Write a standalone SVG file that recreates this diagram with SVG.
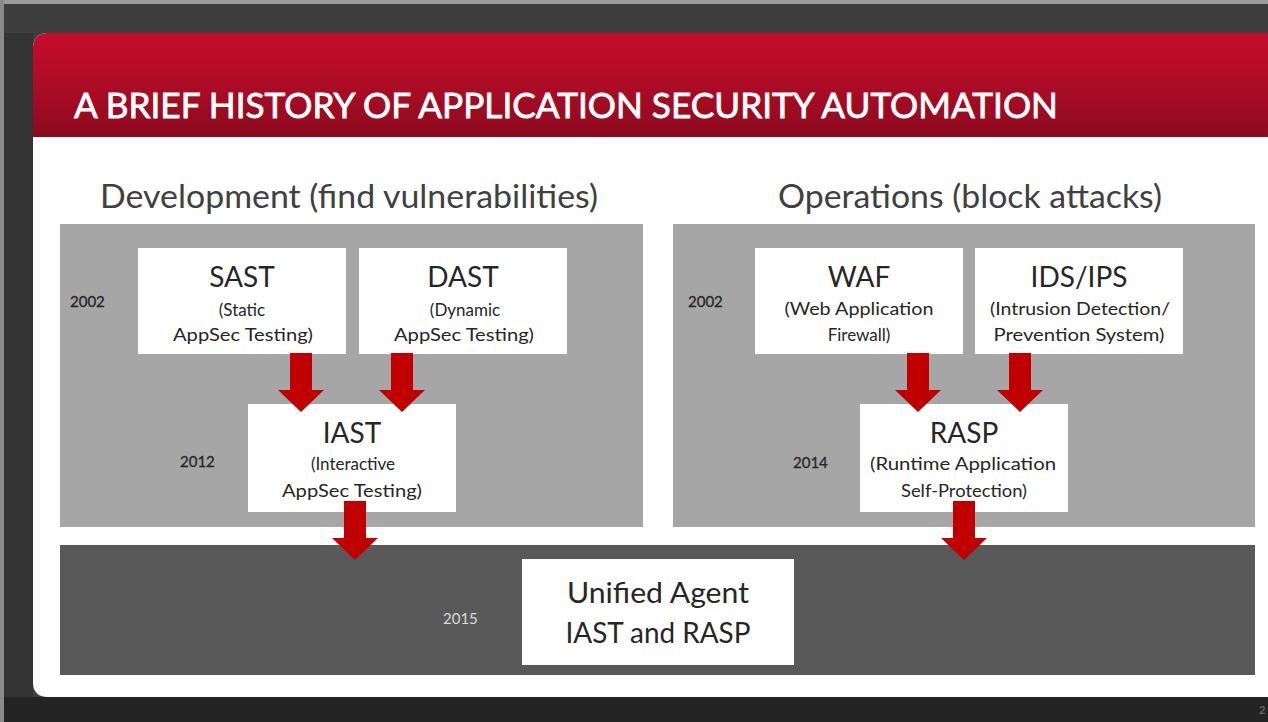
<svg xmlns="http://www.w3.org/2000/svg" xmlns:xlink="http://www.w3.org/1999/xlink" width="1268" height="722" viewBox="0 0 1268 722">
<defs>
<linearGradient id="hdr" x1="0" y1="0" x2="0" y2="1">
<stop offset="0" stop-color="#c40d2b"/>
<stop offset="0.45" stop-color="#b00c26"/>
<stop offset="1" stop-color="#8c0a1e"/>
</linearGradient>
<path id="arrow" d="M-11,0 H11 V37 H23 L0,59 L-23,37 H-11 Z"/>
<style>
text{font-family:Lato,"Open Sans","Liberation Sans",sans-serif}
.box{fill:#ffffff}
.big{font-size:28px;fill:#262626;text-anchor:middle}
.sub{font-size:17px;fill:#262626;text-anchor:middle}
.yr{font-size:15px;fill:#262626;stroke:#262626;stroke-width:0.3}
.head{font-size:32px;fill:#404040}
.arr{fill:#c00000}
</style>
</defs>
<rect x="0" y="0" width="1268" height="722" fill="#3e3e3e"/>
<rect x="0" y="33" width="33" height="664" fill="#333333"/>
<rect x="0" y="697" width="1268" height="25" fill="#242424"/>
<rect x="0" y="0" width="1268" height="4" fill="#9a9a9a"/>
<rect x="0" y="0" width="4" height="722" fill="#8a8a8a"/>
<text x="1259" y="714" font-size="11" fill="#666" font-family="Liberation Sans,sans-serif" font-weight="bold">2</text>
<path d="M48,33 H1268 V697 H48 Q33,697 33,682 V48 Q33,33 48,33 Z" fill="#ffffff"/>
<path d="M48,33 H1268 V137 H33 V48 Q33,33 48,33 Z" fill="url(#hdr)"/>
<text x="74" y="118" font-size="35" fill="#ffffff" stroke="#ffffff" stroke-width="0.8" textLength="984" lengthAdjust="spacingAndGlyphs">A BRIEF HISTORY OF APPLICATION SECURITY AUTOMATION</text>

<text class="head" x="100" y="208" textLength="498" lengthAdjust="spacingAndGlyphs">Development (find vulnerabilities)</text>
<text class="head" x="778" y="208" textLength="384" lengthAdjust="spacingAndGlyphs">Operations (block attacks)</text>

<g id="panels">
<rect x="60" y="224" width="583" height="303" fill="#a6a6a6"/>
<rect x="673" y="224" width="582" height="303" fill="#a6a6a6"/>
<rect x="60" y="545" width="1195" height="130" fill="#595959"/>
</g>

<g id="years">
<text class="yr" x="70" y="307">2002</text>
<text class="yr" x="180" y="467">2012</text>
<text class="yr" x="688" y="307">2002</text>
<text class="yr" x="793" y="468">2014</text>
<text class="yr" x="443" y="624" style="fill:#d9d9d9;stroke:none">2015</text>
</g>

<g id="sast">
<rect class="box" x="138" y="248" width="208" height="106"/>
<text class="big" x="242" y="287">SAST</text>
<text class="sub" x="242" y="316">(Static</text>
<text class="sub" x="243" y="341" textLength="140" lengthAdjust="spacingAndGlyphs">AppSec Testing)</text>
</g>
<g id="dast">
<rect class="box" x="359" y="248" width="208" height="106"/>
<text class="big" x="463" y="287">DAST</text>
<text class="sub" x="465" y="316">(Dynamic</text>
<text class="sub" x="464" y="341" textLength="140" lengthAdjust="spacingAndGlyphs">AppSec Testing)</text>
</g>
<g id="iast">
<rect class="box" x="248" y="404" width="208" height="108"/>
<text class="big" x="352" y="443">IAST</text>
<text class="sub" x="353" y="470">(Interactive</text>
<text class="sub" x="352" y="497" textLength="140" lengthAdjust="spacingAndGlyphs">AppSec Testing)</text>
</g>
<g id="waf">
<rect class="box" x="755" y="248" width="208" height="106"/>
<text class="big" x="859" y="287">WAF</text>
<text class="sub" x="859" y="315" textLength="149" lengthAdjust="spacingAndGlyphs">(Web Application</text>
<text class="sub" x="859" y="341">Firewall)</text>
</g>
<g id="idsips">
<rect class="box" x="975" y="248" width="208" height="106"/>
<text class="big" x="1079" y="287">IDS/IPS</text>
<text class="sub" x="1080" y="315" textLength="180" lengthAdjust="spacingAndGlyphs">(Intrusion Detection/</text>
<text class="sub" x="1079" y="341" textLength="171" lengthAdjust="spacingAndGlyphs">Prevention System)</text>
</g>
<g id="rasp">
<rect class="box" x="860" y="404" width="208" height="108"/>
<text class="big" x="964" y="443">RASP</text>
<text class="sub" x="963" y="470" textLength="186" lengthAdjust="spacingAndGlyphs">(Runtime Application</text>
<text class="sub" x="964" y="497" textLength="126" lengthAdjust="spacingAndGlyphs">Self-Protection)</text>
</g>
<g id="unified">
<rect class="box" x="522" y="559" width="272" height="106"/>
<text class="big" x="658" y="603" textLength="182" lengthAdjust="spacingAndGlyphs">Unified Agent</text>
<text class="big" x="658" y="643" textLength="185" lengthAdjust="spacingAndGlyphs">IAST and RASP</text>
</g>

<g id="connectors" class="arr">
<use xlink:href="#arrow" x="301" y="353"/>
<use xlink:href="#arrow" x="402" y="353"/>
<use xlink:href="#arrow" x="355" y="501"/>
<use xlink:href="#arrow" x="918" y="353"/>
<use xlink:href="#arrow" x="1020" y="353"/>
<use xlink:href="#arrow" x="964" y="501"/>
</g>
</svg>
